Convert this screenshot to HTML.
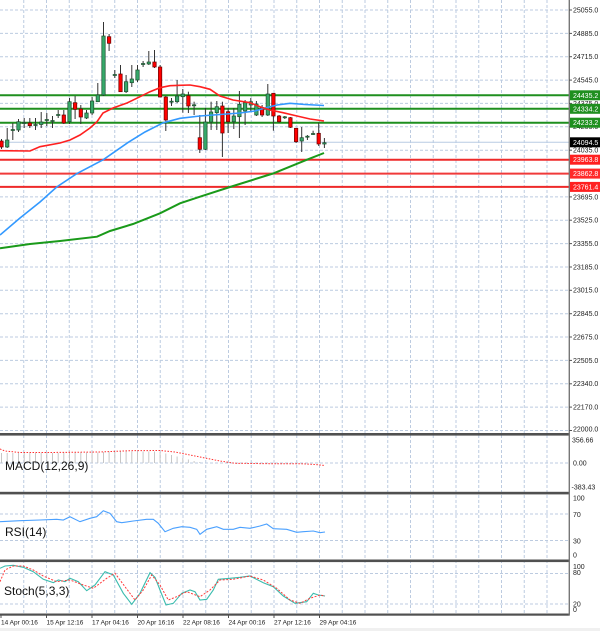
<!DOCTYPE html>
<html>
<head>
<meta charset="utf-8">
<style>
html,body{margin:0;padding:0;background:#fff;}
svg{display:block;}
text{font-family:"Liberation Sans",Arial,sans-serif;}
</style>
</head>
<body>
<svg width="600" height="631" viewBox="0 0 600 631" xmlns="http://www.w3.org/2000/svg">
<rect x="0" y="0" width="600" height="631" fill="#ffffff"/>
<rect x="0" y="628" width="600" height="3" fill="#f0f0f0"/>

<!-- vertical grid -->
<g stroke="#bccbe0" stroke-width="1" stroke-dasharray="3,2">
<line x1="23.75" y1="0" x2="23.75" y2="614"/><line x1="46.5" y1="0" x2="46.5" y2="614"/>
<line x1="69.25" y1="0" x2="69.25" y2="614"/><line x1="92" y1="0" x2="92" y2="614"/>
<line x1="114.75" y1="0" x2="114.75" y2="614"/><line x1="137.5" y1="0" x2="137.5" y2="614"/>
<line x1="160.25" y1="0" x2="160.25" y2="614"/><line x1="183" y1="0" x2="183" y2="614"/>
<line x1="205.75" y1="0" x2="205.75" y2="614"/><line x1="228.5" y1="0" x2="228.5" y2="614"/>
<line x1="251.25" y1="0" x2="251.25" y2="614"/><line x1="274" y1="0" x2="274" y2="614"/>
<line x1="296.75" y1="0" x2="296.75" y2="614"/><line x1="319.5" y1="0" x2="319.5" y2="614"/>
<line x1="342.25" y1="0" x2="342.25" y2="614"/><line x1="365" y1="0" x2="365" y2="614"/>
<line x1="387.75" y1="0" x2="387.75" y2="614"/><line x1="410.5" y1="0" x2="410.5" y2="614"/>
<line x1="433.25" y1="0" x2="433.25" y2="614"/><line x1="456" y1="0" x2="456" y2="614"/>
<line x1="478.75" y1="0" x2="478.75" y2="614"/><line x1="501.5" y1="0" x2="501.5" y2="614"/>
<line x1="524.25" y1="0" x2="524.25" y2="614"/><line x1="547" y1="0" x2="547" y2="614"/>
</g>
<!-- horizontal grid main -->
<g stroke="#bccbe0" stroke-width="1" stroke-dasharray="3,2">
<line x1="0" y1="10" x2="569" y2="10"/><line x1="0" y1="33.4" x2="569" y2="33.4"/>
<line x1="0" y1="56.7" x2="569" y2="56.7"/><line x1="0" y1="80.1" x2="569" y2="80.1"/>
<line x1="0" y1="103.4" x2="569" y2="103.4"/><line x1="0" y1="126.8" x2="569" y2="126.8"/>
<line x1="0" y1="150.2" x2="569" y2="150.2"/><line x1="0" y1="173.5" x2="569" y2="173.5"/>
<line x1="0" y1="196.9" x2="569" y2="196.9"/><line x1="0" y1="220.2" x2="569" y2="220.2"/>
<line x1="0" y1="243.6" x2="569" y2="243.6"/><line x1="0" y1="267" x2="569" y2="267"/>
<line x1="0" y1="290.3" x2="569" y2="290.3"/><line x1="0" y1="313.7" x2="569" y2="313.7"/>
<line x1="0" y1="337" x2="569" y2="337"/><line x1="0" y1="360.4" x2="569" y2="360.4"/>
<line x1="0" y1="383.8" x2="569" y2="383.8"/><line x1="0" y1="407.1" x2="569" y2="407.1"/>
<line x1="0" y1="430.5" x2="569" y2="430.5"/>
<line x1="0" y1="463" x2="569" y2="463"/>
<line x1="0" y1="514" x2="569" y2="514"/><line x1="0" y1="540.5" x2="569" y2="540.5"/>
<line x1="0" y1="573.5" x2="569" y2="573.5"/><line x1="0" y1="604" x2="569" y2="604"/>
</g>

<!-- S/R lines -->
<g stroke-width="2">
<line x1="0" y1="95.3" x2="569" y2="95.3" stroke="#1f8f1f"/>
<line x1="0" y1="108.8" x2="569" y2="108.8" stroke="#1f8f1f"/>
<line x1="0" y1="122.7" x2="569" y2="122.7" stroke="#1f8f1f"/>
<line x1="0" y1="159.7" x2="569" y2="159.7" stroke="#ee2a2a"/>
<line x1="0" y1="173.6" x2="569" y2="173.6" stroke="#f03a3a"/>
<line x1="0" y1="186.9" x2="569" y2="186.9" stroke="#ee2a2a"/>
</g>
<line x1="0" y1="142.3" x2="569" y2="142.3" stroke="#b8cce4" stroke-width="1"/>

<!-- candle wicks -->
<g stroke="#333" stroke-width="1">
<line x1="1.5" y1="139" x2="1.5" y2="149"/><line x1="7.2" y1="128" x2="7.2" y2="148"/>
<line x1="12.8" y1="123" x2="12.8" y2="140"/><line x1="18.5" y1="119" x2="18.5" y2="132"/>
<line x1="24.2" y1="118" x2="24.2" y2="128"/><line x1="29.8" y1="118" x2="29.8" y2="128"/>
<line x1="35.5" y1="118" x2="35.5" y2="130"/><line x1="41.2" y1="112" x2="41.2" y2="128"/>
<line x1="46.8" y1="113" x2="46.8" y2="126"/><line x1="52.5" y1="116" x2="52.5" y2="128"/>
<line x1="58.2" y1="110" x2="58.2" y2="118"/><line x1="63.8" y1="110" x2="63.8" y2="124"/>
<line x1="69.5" y1="98" x2="69.5" y2="124"/><line x1="75.1" y1="96" x2="75.1" y2="119"/>
<line x1="80.8" y1="105" x2="80.8" y2="124"/><line x1="86.5" y1="110" x2="86.5" y2="119"/>
<line x1="92.1" y1="97" x2="92.1" y2="115"/><line x1="97.8" y1="83" x2="97.8" y2="102"/>
<line x1="103.5" y1="22" x2="103.5" y2="96"/><line x1="109.1" y1="34" x2="109.1" y2="51"/>
<line x1="114.8" y1="70" x2="114.8" y2="78"/><line x1="120.5" y1="65" x2="120.5" y2="92"/>
<line x1="126.1" y1="75" x2="126.1" y2="93"/><line x1="131.8" y1="65" x2="131.8" y2="87"/>
<line x1="137.5" y1="65" x2="137.5" y2="82"/><line x1="143.1" y1="61" x2="143.1" y2="67"/>
<line x1="148.8" y1="51" x2="148.8" y2="65"/><line x1="154.5" y1="50" x2="154.5" y2="68"/>
<line x1="160.1" y1="65" x2="160.1" y2="97"/><line x1="165.8" y1="96" x2="165.8" y2="131"/>
<line x1="171.5" y1="98" x2="171.5" y2="106"/><line x1="177.1" y1="80" x2="177.1" y2="103"/>
<line x1="182.8" y1="89" x2="182.8" y2="112.7"/><line x1="188.4" y1="91.7" x2="188.4" y2="113"/>
<line x1="194.1" y1="101.7" x2="194.1" y2="115"/><line x1="199.8" y1="115" x2="199.8" y2="153"/>
<line x1="205.4" y1="108" x2="205.4" y2="150"/><line x1="211.1" y1="101.7" x2="211.1" y2="130"/>
<line x1="216.8" y1="101" x2="216.8" y2="130"/><line x1="222.4" y1="101.7" x2="222.4" y2="157"/>
<line x1="228.1" y1="108" x2="228.1" y2="133"/><line x1="233.8" y1="108" x2="233.8" y2="129"/>
<line x1="239.4" y1="91" x2="239.4" y2="138"/><line x1="245.1" y1="100" x2="245.1" y2="125"/>
<line x1="250.8" y1="98" x2="250.8" y2="112"/><line x1="256.4" y1="101" x2="256.4" y2="116"/>
<line x1="262.1" y1="105" x2="262.1" y2="117"/><line x1="267.8" y1="84" x2="267.8" y2="116"/>
<line x1="273.4" y1="93" x2="273.4" y2="130.7"/><line x1="279.1" y1="115" x2="279.1" y2="123"/>
<line x1="284.8" y1="116" x2="284.8" y2="119"/><line x1="290.4" y1="117" x2="290.4" y2="128"/>
<line x1="296.1" y1="128" x2="296.1" y2="143"/><line x1="301.7" y1="127" x2="301.7" y2="152"/>
<line x1="307.4" y1="135" x2="307.4" y2="140"/><line x1="313.1" y1="130.7" x2="313.1" y2="135"/>
<line x1="318.7" y1="122.7" x2="318.7" y2="146"/><line x1="324.4" y1="138" x2="324.4" y2="148"/>
</g>
<!-- bullish / doji bodies -->
<g fill="#36a86a" stroke="#1d4d2d" stroke-width="0.7">
<rect x="5.5" y="140" width="3.4" height="7"/>
<rect x="16.8" y="121.7" width="3.4" height="8.3"/>
<rect x="39.5" y="122" width="3.4" height="2.5"/>
<rect x="67.8" y="101.7" width="3.4" height="20"/>
<rect x="84.8" y="113" width="3.4" height="5"/>
<rect x="90.4" y="101" width="3.4" height="12"/>
<rect x="96.1" y="95" width="3.4" height="6.7"/>
<rect x="101.8" y="36" width="3.4" height="59"/>
<rect x="124.4" y="81.7" width="3.4" height="10"/>
<rect x="130.1" y="79" width="3.4" height="3.7"/>
<rect x="135.8" y="70" width="3.4" height="10"/>
<rect x="147.1" y="62" width="3.4" height="2"/>
<rect x="175.4" y="96" width="3.4" height="5.7"/>
<rect x="181.1" y="94" width="3.4" height="2.7"/>
<rect x="203.7" y="122" width="3.4" height="27.3"/>
<rect x="209.4" y="112" width="3.4" height="10"/>
<rect x="215.1" y="106.7" width="3.4" height="6"/>
<rect x="232.1" y="116" width="3.4" height="5.7"/>
<rect x="237.7" y="104.3" width="3.4" height="12.4"/>
<rect x="243.4" y="102.7" width="3.4" height="8.3"/>
<rect x="249.1" y="101.7" width="3.4" height="3.3"/>
<rect x="254.7" y="104" width="3.4" height="11"/>
<rect x="266.1" y="94" width="3.4" height="21"/>
<rect x="300" y="137.7" width="3.4" height="3.3"/>
<rect x="322.7" y="142.7" width="3.4" height="1.3"/>
<!-- doji -->
<rect x="11.1" y="129.5" width="3.4" height="1"/>
<rect x="22.5" y="122.5" width="3.4" height="1"/>
<rect x="33.8" y="124.5" width="3.4" height="1"/>
<rect x="45.1" y="119.5" width="3.4" height="1"/>
<rect x="50.8" y="120.5" width="3.4" height="1"/>
<rect x="56.5" y="114.5" width="3.4" height="1"/>
<rect x="113.1" y="74.5" width="3.4" height="1"/>
<rect x="141.4" y="63.5" width="3.4" height="1"/>
<rect x="169.8" y="101.2" width="3.4" height="1"/>
<rect x="192.4" y="104.8" width="3.4" height="1"/>
<rect x="283.1" y="116.8" width="3.4" height="1"/>
<rect x="305.7" y="136.2" width="3.4" height="1"/>
<rect x="311.4" y="133.5" width="3.4" height="1"/>
</g>
<!-- bearish bodies -->
<g fill="#ff0000" stroke="#6a0000" stroke-width="0.7">
<rect x="-0.2" y="141" width="3.4" height="6"/>
<rect x="28.1" y="123" width="3.4" height="2.7"/>
<rect x="62.1" y="115" width="3.4" height="8"/>
<rect x="73.4" y="102.7" width="3.4" height="6.6"/>
<rect x="79.1" y="109" width="3.4" height="8"/>
<rect x="107.4" y="36.7" width="3.4" height="6.6"/>
<rect x="118.8" y="74" width="3.4" height="17.7"/>
<rect x="152.8" y="62" width="3.4" height="5"/>
<rect x="158.4" y="67" width="3.4" height="30"/>
<rect x="164.1" y="97" width="3.4" height="23"/>
<rect x="186.7" y="95.7" width="3.4" height="10.3"/>
<rect x="198.1" y="137.7" width="3.4" height="11.6"/>
<rect x="220.7" y="106" width="3.4" height="27"/>
<rect x="226.4" y="111.7" width="3.4" height="10"/>
<rect x="260.4" y="107.7" width="3.4" height="7.3"/>
<rect x="271.7" y="93.3" width="3.4" height="22.7"/>
<rect x="277.4" y="116" width="3.4" height="5.7"/>
<rect x="288.7" y="117.7" width="3.4" height="9.6"/>
<rect x="294.4" y="128.3" width="3.4" height="13.4"/>
<rect x="317" y="133.3" width="3.4" height="10.7"/>
</g>

<!-- moving averages -->
<polyline fill="none" stroke="#1a9a1a" stroke-width="2" points="0,248.3 30,244 60,241 97,236.7 110,231 133,224 160,213.3 180,203.3 200,196.7 230,187 273,173.5 307,159.7 324,153"/>
<polyline fill="none" stroke="#3399ff" stroke-width="1.6" points="0,235 20,218 40,202 56.7,187 76.7,173.7 103.3,159.7 128.3,142.3 145,132 163.3,122.7 180,118.3 200,116 220,114.5 240,113 255,111 265,108 277,105 290,103.3 305,104.5 324,105.5"/>
<polyline fill="none" stroke="#ff2020" stroke-width="1.6" points="0,150.7 30,151 40,146.7 60,143 70,140 80,135 90,128 97,121.7 103,113 113,108 127,103 140,96.7 150,91.7 160,87.7 170,85.7 180,85.3 190,85 200,86.7 210,89.3 220,96 233,100 250,102.7 260,106.7 270,110 283,112.7 297,116 310,119 324,121"/>

<!-- MACD histogram -->
<g stroke="#c6c6c6" stroke-width="1">
<line x1="1.5" y1="463" x2="1.5" y2="453"/><line x1="7.2" y1="463" x2="7.2" y2="453"/>
<line x1="12.8" y1="463" x2="12.8" y2="453"/><line x1="18.5" y1="463" x2="18.5" y2="453"/>
<line x1="24.2" y1="463" x2="24.2" y2="453"/><line x1="29.8" y1="463" x2="29.8" y2="453"/>
<line x1="35.5" y1="463" x2="35.5" y2="453"/><line x1="41.2" y1="463" x2="41.2" y2="453"/>
<line x1="46.8" y1="463" x2="46.8" y2="453"/><line x1="52.5" y1="463" x2="52.5" y2="453"/>
<line x1="58.2" y1="463" x2="58.2" y2="453"/><line x1="63.8" y1="463" x2="63.8" y2="452.5"/>
<line x1="69.5" y1="463" x2="69.5" y2="452.5"/><line x1="75.1" y1="463" x2="75.1" y2="452.5"/>
<line x1="80.8" y1="463" x2="80.8" y2="452.5"/><line x1="86.5" y1="463" x2="86.5" y2="452.5"/>
<line x1="92.1" y1="463" x2="92.1" y2="452.5"/><line x1="97.8" y1="463" x2="97.8" y2="452.5"/>
<line x1="103.5" y1="463" x2="103.5" y2="452"/><line x1="109.1" y1="463" x2="109.1" y2="451.5"/>
<line x1="114.8" y1="463" x2="114.8" y2="451.5"/><line x1="120.5" y1="463" x2="120.5" y2="451.5"/>
<line x1="126.1" y1="463" x2="126.1" y2="451.5"/><line x1="131.8" y1="463" x2="131.8" y2="451.5"/>
<line x1="137.5" y1="463" x2="137.5" y2="451.5"/><line x1="143.1" y1="463" x2="143.1" y2="451.5"/>
<line x1="148.8" y1="463" x2="148.8" y2="451.5"/><line x1="154.5" y1="463" x2="154.5" y2="451.5"/>
<line x1="160.1" y1="463" x2="160.1" y2="452"/><line x1="165.8" y1="463" x2="165.8" y2="453.5"/>
<line x1="171.5" y1="463" x2="171.5" y2="455"/><line x1="177.1" y1="463" x2="177.1" y2="456.5"/>
<line x1="182.8" y1="463" x2="182.8" y2="458"/><line x1="188.4" y1="463" x2="188.4" y2="459.5"/>
<line x1="194.1" y1="463" x2="194.1" y2="461"/><line x1="199.8" y1="463" x2="199.8" y2="462"/>
</g>
<polyline fill="none" stroke="#ff3030" stroke-width="1" stroke-dasharray="1.5,1.5" points="0,449 5,451 20,452.5 50,452.5 100,452 130,450.7 160,450.5 175,452 190,455 205,458 220,461 235,463.3 270,463.7 300,463.7 315,464.5 325,465.5"/>

<!-- RSI -->
<polyline fill="none" stroke="#4aa0ff" stroke-width="1.1" points="0,521.7 20,520.7 40,520 56.7,519.3 63.3,520 70,516.7 80,521.7 90,518.3 96.7,516.7 103.3,510.7 110,513.3 116.7,521.7 121.7,522.7 133.3,521 146.7,519.3 153.3,519.3 158.3,523.3 165,531.7 173.3,528.3 181.7,526.7 190,527.3 196.7,529.3 200,534.3 206.7,529.3 216.7,526.7 223.3,529.3 233.3,529.3 240,527.3 250,528.3 260,526 266.7,524 273.3,528.7 286.7,529.3 296.7,532.3 303.3,531.7 313.3,531 320,532.7 325,532"/>

<!-- Stoch -->
<polyline fill="none" stroke="#3bbcae" stroke-width="1.1" points="0,568.3 5,566 13.3,565.3 23.3,567.3 33.3,571.7 43.3,579.3 53.3,582.7 58.3,580 65,581.7 70,578.3 78.3,581.7 86.7,590.7 95,585 105,571.7 113.3,575 123.3,593.3 131.7,604.3 140,593.3 150,572.7 155,577.3 160,590 166,605 173.3,603.3 181.7,593.3 190,590 195,591.7 200,600 206.7,599.3 213.3,590 218.3,579.3 230,578.3 240,577.3 250,576 263.3,582.7 273.3,586.7 283.3,596 295,603.3 306.7,601.7 313.3,593.3 318.3,595 325,596"/>
<polyline fill="none" stroke="#ff3b3b" stroke-width="1" stroke-dasharray="2,1.5" points="0,581.7 5,570 13.3,566 23.3,566 33.3,570 43.3,576 56.7,581.7 70,580 83.3,585 93.3,588.3 106.7,578.3 115,573.3 125,586.7 135,600 143.3,590 151.7,575 160,585 168.3,600 176.7,596.7 186.7,591.7 200,596.7 210,590 220,580 233.3,579.3 250,576 263.3,580 276.7,588.3 290,600 300,603.3 310,598.3 320,595 325,596"/>

<!-- separators -->
<rect x="0" y="433" width="569.5" height="2.6" fill="#505050"/>
<rect x="0" y="491.8" width="569.5" height="2.6" fill="#505050"/>
<rect x="0" y="559.5" width="569.5" height="2.6" fill="#505050"/>
<rect x="0" y="613.5" width="569.5" height="2.2" fill="#505050"/>
<line x1="569.3" y1="0" x2="569.3" y2="615.5" stroke="#777" stroke-width="1.4"/>

<!-- bottom ticks -->
<g stroke="#505050" stroke-width="1">
<line x1="1" y1="615" x2="1" y2="618"/><line x1="46.5" y1="615" x2="46.5" y2="618"/>
<line x1="92" y1="615" x2="92" y2="618"/><line x1="137.5" y1="615" x2="137.5" y2="618"/>
<line x1="183" y1="615" x2="183" y2="618"/><line x1="228.5" y1="615" x2="228.5" y2="618"/>
<line x1="274" y1="615" x2="274" y2="618"/><line x1="319.5" y1="615" x2="319.5" y2="618"/>
</g>
<g font-size="6.5" fill="#222">
<text x="1" y="624.5">14 Apr 00:16</text>
<text x="46.5" y="624.5">15 Apr 12:16</text>
<text x="92" y="624.5">17 Apr 04:16</text>
<text x="137.5" y="624.5">20 Apr 16:16</text>
<text x="183" y="624.5">22 Apr 08:16</text>
<text x="228.5" y="624.5">24 Apr 00:16</text>
<text x="274" y="624.5">27 Apr 12:16</text>
<text x="319.5" y="624.5">29 Apr 04:16</text>
</g>

<!-- right axis ticks -->
<g stroke="#555" stroke-width="1">
<line x1="569" y1="10" x2="572" y2="10"/><line x1="569" y1="33.4" x2="572" y2="33.4"/>
<line x1="569" y1="56.7" x2="572" y2="56.7"/><line x1="569" y1="80.1" x2="572" y2="80.1"/>
<line x1="569" y1="103.4" x2="572" y2="103.4"/><line x1="569" y1="126.8" x2="572" y2="126.8"/>
<line x1="569" y1="150.2" x2="572" y2="150.2"/><line x1="569" y1="196.9" x2="572" y2="196.9"/>
<line x1="569" y1="220.2" x2="572" y2="220.2"/><line x1="569" y1="243.6" x2="572" y2="243.6"/>
<line x1="569" y1="267" x2="572" y2="267"/><line x1="569" y1="290.3" x2="572" y2="290.3"/>
<line x1="569" y1="313.7" x2="572" y2="313.7"/><line x1="569" y1="337" x2="572" y2="337"/>
<line x1="569" y1="360.4" x2="572" y2="360.4"/><line x1="569" y1="383.8" x2="572" y2="383.8"/>
<line x1="569" y1="407.1" x2="572" y2="407.1"/><line x1="569" y1="430.5" x2="572" y2="430.5"/>
</g>
<!-- right axis labels -->
<g font-size="7" fill="#222">
<text x="573" y="12.4">25055.0</text>
<text x="573" y="35.8">24885.0</text>
<text x="573" y="59.1">24715.0</text>
<text x="573" y="82.5">24545.0</text>
<text x="573" y="105.8">24375.0</text>
<text x="573" y="129.2">24205.0</text>
<text x="573" y="152.6">24035.0</text>
<text x="573" y="175.9">23865.0</text>
<text x="573" y="199.3">23695.0</text>
<text x="573" y="222.6">23525.0</text>
<text x="573" y="246">23355.0</text>
<text x="573" y="269.4">23185.0</text>
<text x="573" y="292.7">23015.0</text>
<text x="573" y="316.1">22845.0</text>
<text x="573" y="339.4">22675.0</text>
<text x="573" y="362.8">22505.0</text>
<text x="573" y="386.2">22340.0</text>
<text x="573" y="409.5">22170.0</text>
<text x="573" y="431.5">22000.0</text>
<text x="572" y="442.4">356.66</text>
<text x="573" y="465.4">0.00</text>
<text x="571.5" y="489.4">-383.43</text>
<text x="573" y="500.4">100</text>
<text x="573" y="516.9">70</text>
<text x="573" y="543.4">30</text>
<text x="573" y="557.4">0</text>
<text x="573" y="568.9">100</text>
<text x="573" y="575">80</text>
<text x="573" y="606.4">20</text>
<text x="573" y="612">0</text>
</g>

<!-- price boxes -->
<rect x="570" y="90.3" width="30" height="10" fill="#1f8f1f"/>
<rect x="570" y="103.8" width="30" height="10" fill="#1f8f1f"/>
<rect x="570" y="117.7" width="30" height="10" fill="#1f8f1f"/>
<rect x="570" y="137.3" width="30" height="10" fill="#000"/>
<rect x="570" y="154.7" width="30" height="10" fill="#ff2020"/>
<rect x="570" y="168.6" width="30" height="10" fill="#ff2a2a"/>
<rect x="570" y="181.9" width="30" height="10" fill="#ff2020"/>
<g font-size="7" fill="#fff">
<text x="573" y="97.8">24435.2</text>
<text x="573" y="111.3">24334.2</text>
<text x="573" y="125.2">24233.2</text>
<text x="573" y="144.8">24094.5</text>
<text x="573" y="162.2">23963.8</text>
<text x="573" y="176.1">23862.8</text>
<text x="573" y="189.4">23761.4</text>
</g>

<!-- indicator titles -->
<g font-size="12" fill="#111">
<text x="5" y="470">MACD(12,26,9)</text>
<text x="5" y="536">RSI(14)</text>
<text x="4" y="595">Stoch(5,3,3)</text>
</g>
</svg>
</body>
</html>
